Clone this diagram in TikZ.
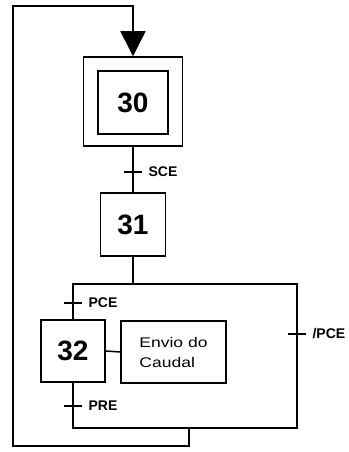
\documentclass[tikz,border=0pt]{standalone}
\usepackage{fontspec}
\setmainfont{Liberation Sans}
\newfontfamily\widefont[FakeStretch=1.25]{Liberation Sans}
\usetikzlibrary{arrows.meta}
\def\transition(#1,#2)#3{\draw[line width=1.2pt] (#1-9,#2) -- (#1+9,#2) node[trlabel]{#3};}

\tikzset{
	stepbox/.style={draw, line width=1.5pt, minimum width=65pt, minimum height=63pt, inner sep=0pt, font=\bfseries\fontsize{28}{32}\selectfont},
	actbox/.style={draw, line width=1.5pt, minimum width=105pt, minimum height=62pt, align=left, font=\widefont\fontsize{14}{20}\selectfont},
	trlabel/.style={anchor=west, inner sep=0pt, xshift=6pt, font=\bfseries\fontsize{14}{16}\selectfont},
	link/.style={line width=1.5pt},
}

\begin{document}
\begin{tikzpicture}[x=1pt,y=-1pt]
		%%%%% START %%%%%
		\useasboundingbox (0,0) rectangle (348,452);
		
		\node[stepbox, minimum width=99pt, minimum height=89pt] (s30o) at (133,101.5) {};
		\node[stepbox, minimum width=70pt, minimum height=63pt] (s30) at (133,102.5) {30};
		\node[stepbox] (s31) at (133,224.5) {31};
		\node[stepbox, minimum width=64pt, minimum height=62pt] (s32) at (73,351) {32};
		\node[actbox] (a32) at (173.5,352) {Envio do\\Caudal};
		
		\coordinate (top) at (133,284);
		\coordinate (bl) at (73,284);
		\coordinate (br) at (297,284);
		\coordinate (dr) at (297,428);
		\coordinate (dl) at (73,428);
		\coordinate (back) at (189,428);
		\coordinate (b1) at (189,446);
		\coordinate (b2) at (13,446);
		\coordinate (b3) at (13,6);
		\coordinate (b4) at (133,6);
		
		\draw[link] (s30o.south) -- (s31.north);
		\draw[link] (s31.south) -- (top);
		\draw[link] (s32.north) -- (bl) -- (br) -- (dr) -- (dl) -- (s32.south);
		\draw[link] (s32.east) -- (a32.west);
		\draw[link, -{Triangle[length=25pt,width=25pt]}] (back) -- (b1) -- (b2) -- (b3) -- (b4) -- (s30o.north);
		
		\transition(133,172){SCE}
		\transition(73,303){PCE}
		\transition(297,334){/PCE}
		\transition(73,406){PRE}
		
		%%%%% END %%%%%
	\end{tikzpicture}
\end{document}
